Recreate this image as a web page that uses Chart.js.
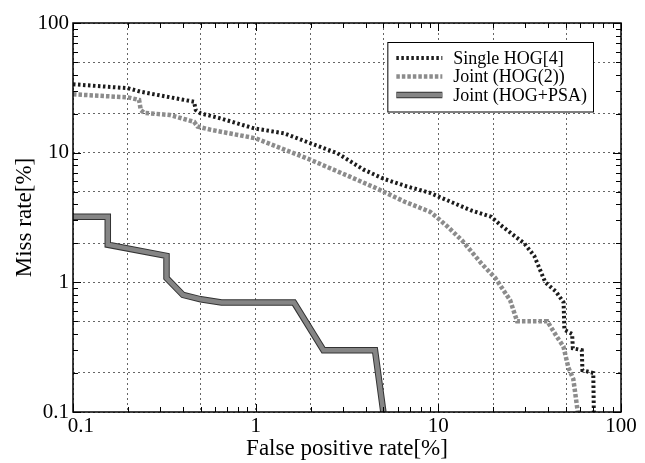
<!DOCTYPE html>
<html><head><meta charset="utf-8">
<script src="https://cdn.jsdelivr.net/npm/chart.js@4.4.1/dist/chart.umd.min.js"></script>
<style>html,body{margin:0;padding:0;background:#fff;}
#probe{position:absolute;left:-9999px;top:0;font-family:'Liberation Serif','Times New Roman',serif;font-size:20px;}</style>
</head><body>
<div id="probe">Miss rate 0.1 100</div>
<canvas id="c" width="645" height="463" style="width:645px;height:463px;display:block"></canvas>
<script>
// ---- data ----
const seriesLabels = ['Single HOG[4]', 'Joint (HOG(2))', 'Joint (HOG+PSA)'];

const singleHogX = [0.1,0.2,0.235,0.26,0.46,0.47,0.5,0.64,0.98,1.43,2.0,2.8,3.9,5.0,6.7,9.0,11.6,15,19.5,22,29.5,33.5,38.5,44,48.5,49,54,54.5,61,61.5,70.5,71];
const singleHogY = [33.7,31.4,29.5,28.7,24.7,21.3,20.1,18.4,15.4,14.1,11.8,9.9,7.4,6.3,5.5,4.9,4.2,3.6,3.2,2.75,2.0,1.6,1.0,0.85,0.7,0.43,0.4,0.31,0.3,0.21,0.2,0.1];

const jointHog2X = [0.1,0.2,0.23,0.235,0.245,0.34,0.46,0.48,0.57,1.0,1.45,2.0,3.3,4.6,6.5,9.0,10,11.2,13.5,17.2,20.5,24.7,27,39.5,44.6,48.4,51.5,54.8,58];
const jointHog2Y = [28.2,26.7,25.5,21.3,20.3,19.5,17.3,15.9,15.0,12.9,10.5,8.8,6.5,5.3,4.2,3.5,3.1,2.7,2.1,1.4,1.08,0.73,0.5,0.5,0.38,0.32,0.22,0.18,0.1];

const hogPsaX = [0.1,0.155,0.155,0.325,0.325,0.4,0.5,0.65,1.62,2.35,4.5,5.0];
const hogPsaY = [3.2,3.2,1.95,1.6,1.08,0.8,0.74,0.7,0.7,0.3,0.3,0.1];

const gridTickValues = [0.1,0.2,0.5,1,2,5,10,20,50,100];
const labelTickValues = [0.1,1,10,100];
const minorTickValues = [0.1,0.2,0.3,0.4,0.5,0.6,0.7,0.8,0.9,1,2,3,4,5,6,7,8,9,10,20,30,40,50,60,70,80,90,100];

const xTitle = 'False positive rate[%]';
const yTitle = 'Miss rate[%]';

// ---- build ----
const pts = (xs, ys) => xs.map((x, i) => ({x, y: ys[i]}));
const SERIF = "'Liberation Serif','Times New Roman',Times,'DejaVu Serif',serif";
const OUTLINED = 2; // dataset drawn with a dark edge

const frameAndTicks = {
  id: 'frameAndTicks',
  beforeDatasetDraw(chart, args) {
    if (args.index !== OUTLINED) return;
    const line = args.meta.dataset;
    const o = line.options;
    const keep = {c: o.borderColor, w: o.borderWidth};
    o.borderColor = '#333';
    o.borderWidth = keep.w + 2;
    chart.ctx.save();
    const a = chart.chartArea;
    chart.ctx.beginPath();
    chart.ctx.rect(a.left, a.top - 5, a.right - a.left, a.bottom - a.top + 5);
    chart.ctx.clip();
    line.draw(chart.ctx, a);
    chart.ctx.restore();
    o.borderColor = keep.c;
    o.borderWidth = keep.w;
  },
  afterDatasetsDraw(chart) {
    const {ctx, chartArea: a, scales: {x, y}} = chart;
    ctx.save();
    ctx.strokeStyle = '#000';
    ctx.lineWidth = 1;
    ctx.beginPath();
    minorTickValues.forEach(v => {
      const major = labelTickValues.includes(v);
      const len = major ? 8 : 5;
      const px = Math.round(x.getPixelForValue(v)) + 0.5;
      ctx.moveTo(px, a.bottom); ctx.lineTo(px, a.bottom - len);
      ctx.moveTo(px, a.top); ctx.lineTo(px, a.top + len);
      const py = Math.round(y.getPixelForValue(v)) + 0.5;
      ctx.moveTo(a.left, py); ctx.lineTo(a.left + len, py);
      ctx.moveTo(a.right, py); ctx.lineTo(a.right - len, py);
    });
    ctx.stroke();
    ctx.lineWidth = 1.5;
    ctx.strokeRect(a.left, a.top, a.right - a.left, a.bottom - a.top);
    ctx.restore();
  },
  afterDraw(chart) {
    const {ctx, chartArea: a} = chart;
    const ds = chart.data.datasets;
    ctx.save();
    ctx.font = "18px " + SERIF;
    const textW = Math.max(...ds.map(d => ctx.measureText(d.label).width));
    const padL = 9, sample = 46, gap = 11, padR = 6, rowH = 18.5;
    const w = padL + sample + gap + textW + padR;
    const h = ds.length * rowH + 14;
    const right = a.right - 28, top = a.top + 19;
    const left = right - w;
    ctx.fillStyle = '#fff';
    ctx.fillRect(left, top, w, h);
    ctx.strokeStyle = '#000';
    ctx.lineWidth = 1;
    ctx.strokeRect(left + 0.5, top + 0.5, w, h);
    ds.forEach((d, i) => {
      const cy = top + 16 + i * rowH;
      const draw = (col, wd) => {
        ctx.beginPath();
        ctx.strokeStyle = col;
        ctx.lineWidth = wd;
        ctx.setLineDash(d.borderDash || []);
        ctx.moveTo(left + padL, cy); ctx.lineTo(left + padL + sample, cy);
        ctx.stroke();
      };
      if (i === OUTLINED) draw('#333', d.borderWidth + 2);
      draw(d.borderColor, d.borderWidth);
      ctx.setLineDash([]);
      ctx.fillStyle = '#000';
      ctx.textBaseline = 'middle';
      ctx.textAlign = 'left';
      ctx.fillText(d.label, left + padL + sample + gap, cy + 1);
    });
    ctx.restore();
  }
};

const logAxis = (title, isX) => ({
  type: 'logarithmic',
  min: 0.1, max: 100,
  afterBuildTicks: s => { s.ticks = gridTickValues.map(v => ({value: v})); },
  afterFit: s => { if (isX) s.height = 51; else s.width = 73; },
  ticks: {
    autoSkip: false, maxRotation: 0, padding: isX ? 2 : 4,
    color: '#000',
    font: {family: SERIF, size: 21},
    callback: v => labelTickValues.includes(v) ? ((isX && v === 0.1) ? '   ' + v : String(v)) : ''
  },
  grid: {color: '#666', lineWidth: 1, drawTicks: false},
  border: {display: false, dash: [2, 3]},
  title: {
    display: true, text: title, color: '#000',
    font: {family: SERIF, size: 23},
    padding: isX ? {top: 0, bottom: 0} : {top: 11, bottom: 0}
  }
});

const chart = new Chart(document.getElementById('c'), {
  type: 'line',
  data: {
    datasets: [
      {label: seriesLabels[0], data: pts(singleHogX, singleHogY), borderColor: '#1c1c1c', borderWidth: 4, borderDash: [2.5, 2.5]},
      {label: seriesLabels[1], data: pts(jointHog2X, jointHog2Y), borderColor: '#8c8c8c', borderWidth: 4.5, borderDash: [3.5, 2]},
      {label: seriesLabels[2], data: pts(hogPsaX, hogPsaY), borderColor: '#858585', borderWidth: 4.5}
    ]
  },
  options: {
    responsive: false,
    animation: false,
    devicePixelRatio: 1,
    elements: {point: {radius: 0}, line: {tension: 0, borderCapStyle: 'butt', borderJoinStyle: 'miter'}},
    layout: {padding: {left: 0, top: 23, right: 24, bottom: 0}},
    plugins: {legend: {display: false}, tooltip: {enabled: false}},
    scales: {x: logAxis(xTitle, true), y: logAxis(yTitle, false)}
  },
  plugins: [frameAndTicks]
});

if (document.fonts && document.fonts.load) {
  Promise.all([
    document.fonts.load("21px 'Liberation Serif'"),
    document.fonts.load("18px 'Liberation Serif'")
  ]).then(() => chart.update('none')).catch(() => {});
}
</script>
</body></html>
